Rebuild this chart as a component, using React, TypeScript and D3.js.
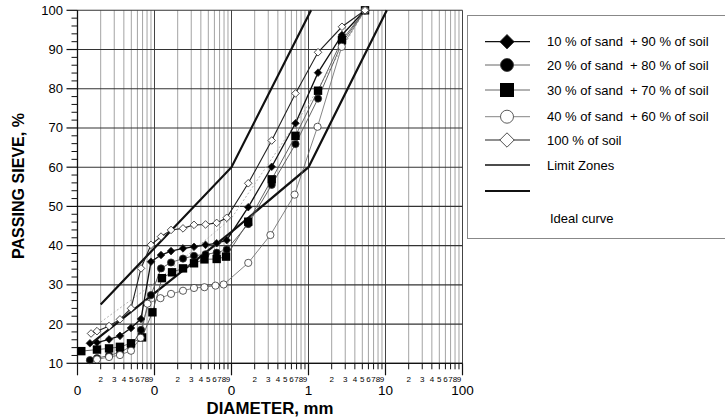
import React from 'react';
import * as d3 from 'd3';

// particle diameters (mm)
const hydroD = [0.00145, 0.00179, 0.00257, 0.00356, 0.00495, 0.00668, 0.009, 0.01215, 0.0164, 0.02345, 0.0326, 0.046, 0.0642, 0.0867];
const sieveD = [0.165, 0.333, 0.678, 1.33, 2.72, 5.42];
const allD = [...hydroD, ...sieveD];

const sand10 = [15.1, 15.3, 16.1, 17.0, 19.0, 21.3, 35.9, 37.6, 38.6, 39.3, 39.7, 40.2, 40.6, 41.4, 49.8, 60.1, 71.2, 84.1, 93.7, 100];
const sand20 = [10.8, 11.3, 12.0, 12.8, 14.3, 18.5, 27.4, 34.2, 35.7, 36.7, 37.4, 37.8, 38.2, 39.0, 45.5, 55.5, 65.9, 77.5, 91.7, 100];
const sand30D = [0.00112, 0.00179, 0.00257, 0.00356, 0.00495, 0.0069, 0.0094, 0.0125, 0.0169, 0.02345, 0.0326, 0.0445, 0.0642, 0.085, ...sieveD];
const sand30 = [13.1, 13.5, 13.8, 14.2, 15.1, 16.6, 23.0, 31.7, 33.2, 34.2, 35.5, 36.5, 36.6, 37.2, 46.1, 56.9, 68.0, 79.5, 92.4, 100];
const sand40D = [0.00179, 0.00257, 0.00356, 0.00495, 0.0066, 0.0081, 0.01195, 0.0164, 0.02345, 0.0326, 0.0445, 0.062, 0.079, 0.165, 0.32, 0.66, 1.31, 2.7, 5.42];
const sand40 = [11.0, 11.6, 12.1, 13.2, 16.5, 25.2, 26.6, 27.7, 28.5, 29.2, 29.4, 29.8, 30.1, 35.6, 42.7, 53.0, 70.3, 90.7, 100];
const soil100D = [0.0015, ...allD.slice(1)];
const soil100 = [17.6, 18.2, 19.5, 21.2, 24.0, 34.2, 40.2, 42.3, 44.0, 44.4, 45.3, 45.4, 45.8, 47.1, 55.9, 66.8, 78.8, 89.3, 95.8, 100];

const upperD = [0.002, 0.1, 1.08];
const upperP = [25, 60, 100];
const lowerD = [0.0015, 0.1, 1, 10.4];
const lowerP = [15, 43.5, 60, 100];
const idealD = [0.002, 0.01, 0.1, 1, 5.42];
const idealP = [20.5, 30.5, 47, 76, 100];

const majorLabels = ['0', '0', '0', '1', '10', '100'];
const minorLabels = ['2', '3', '4', '5', '6', '7', '8', '9'];
const yTicks = [10, 20, 30, 40, 50, 60, 70, 80, 90, 100];

const legendLabels = [
  '10 % of sand  + 90 % of soil',
  '20 % of sand  + 80 % of soil',
  '30 % of sand  + 70 % of soil',
  '40 % of sand  + 60 % of soil',
  '100 % of soil',
  'Limit Zones',
];

const FONT = '"Liberation Sans", Arial, sans-serif';

type Pt = [number, number];

const marker = (kind: string, cx: number, cy: number, s: number, key: string) => {
  if (kind === 'diamond' || kind === 'odiamond') {
    const d = `M${cx},${cy - s}L${cx + s},${cy}L${cx},${cy + s}L${cx - s},${cy}Z`;
    return <path key={key} d={d} fill={kind === 'diamond' ? '#000' : '#fff'} stroke="#222" strokeWidth={0.8} />;
  }
  if (kind === 'square') {
    return <rect key={key} x={cx - s} y={cy - s} width={2 * s} height={2 * s} fill="#000" />;
  }
  return (
    <circle key={key} cx={cx} cy={cy} r={s} fill={kind === 'circle' ? '#000' : '#fff'} stroke="#333" strokeWidth={0.8} />
  );
};

export default function App() {
  const x = d3.scaleLog().domain([0.001, 100]).range([77.5, 462.5]);
  const y = d3.scaleLinear().domain([10, 100]).range([363.3, 10.3]);
  const line = d3.line<Pt>().x(d => x(d[0])).y(d => y(d[1]));
  const zip = (a: number[], b: number[]) => a.map((v, i) => [v, b[i]] as Pt);

  const series = [
    { pts: zip(allD, sand10), kind: 'diamond', stroke: '#111', w: 1.3, s: 3.8 },
    { pts: zip(allD, sand20), kind: 'circle', stroke: '#555', w: 0.9, s: 3.6 },
    { pts: zip(sand30D, sand30), kind: 'square', stroke: '#555', w: 0.9, s: 4.2 },
    { pts: zip(sand40D, sand40), kind: 'ocircle', stroke: '#666', w: 0.8, s: 3.6 },
    { pts: zip(soil100D, soil100), kind: 'odiamond', stroke: '#222', w: 1.1, s: 3.8 },
  ];

  const decades = [0.001, 0.01, 0.1, 1, 10, 100];
  const minorVals: number[] = [];
  decades.slice(0, 5).forEach(dec => {
    for (let k = 2; k <= 9; k++) minorVals.push(dec * k);
  });
  const yMinor = d3.range(10, 100, 2).filter(v => v % 10 !== 0);

  const [x0, x1] = x.range();
  const [y0, y1] = y.range();

  return (
    <svg width={725} height={418} style={{ position: 'absolute', left: 0, top: 0, background: '#fff' }} fontFamily={FONT}>
      {/* grid */}
      {minorVals.map((v, i) => (
        <line key={'vg' + i} x1={x(v)} x2={x(v)} y1={y1} y2={y0} stroke="#9a9a9a" strokeWidth={0.9} />
      ))}
      {decades.map((v, i) => (
        <line key={'vm' + i} x1={x(v)} x2={x(v)} y1={y1} y2={y0} stroke="#444" strokeWidth={1} />
      ))}
      {yTicks.map(v => (
        <line key={'hg' + v} x1={x0} x2={x1} y1={y(v)} y2={y(v)} stroke="#333" strokeWidth={1.1} />
      ))}

      {/* axes */}
      <line x1={x0} x2={x0} y1={y1} y2={y0} stroke="#111" strokeWidth={1.3} />
      <line x1={x0} x2={x1} y1={y0} y2={y0} stroke="#111" strokeWidth={1.3} />
      {yTicks.map(v => (
        <g key={'yt' + v}>
          <line x1={x0 - 11} x2={x0} y1={y(v)} y2={y(v)} stroke="#111" strokeWidth={1.2} />
          <text x={63} y={y(v) + 4.5} textAnchor="end" fontSize={13}>{v}</text>
        </g>
      ))}
      {yMinor.map(v => (
        <line key={'ym' + v} x1={x0 - 6} x2={x0} y1={y(v)} y2={y(v)} stroke="#111" strokeWidth={1} />
      ))}
      {decades.map((v, i) => (
        <g key={'xt' + i}>
          <line x1={x(v)} x2={x(v)} y1={y0} y2={y0 + 12} stroke="#111" strokeWidth={1.2} />
          <text x={x(v)} y={395} textAnchor="middle" fontSize={13.5}>{majorLabels[i]}</text>
        </g>
      ))}
      {minorVals.map((v, i) => (
        <g key={'xm' + i}>
          <line x1={x(v)} x2={x(v)} y1={y0} y2={y0 + 6} stroke="#111" strokeWidth={1} />
          <text x={x(v)} y={382} textAnchor="middle" fontSize={8}>{minorLabels[i % 8]}</text>
        </g>
      ))}
      <text x={270} y={414} textAnchor="middle" fontSize={16.5} fontWeight="bold" textLength={127} lengthAdjust="spacingAndGlyphs">DIAMETER, mm</text>
      <text transform="translate(24,186) rotate(-90)" textAnchor="middle" fontSize={17} fontWeight="bold" textLength={146} lengthAdjust="spacingAndGlyphs">PASSING SIEVE, %</text>

      {/* limit zones and ideal curve */}
      <path d={line(zip(idealD, idealP)) || ''} fill="none" stroke="#aaa" strokeWidth={0.9} strokeDasharray="2 2" />
      <path d={line(zip(upperD, upperP)) || ''} fill="none" stroke="#111" strokeWidth={2.2} />
      <path d={line(zip(lowerD, lowerP)) || ''} fill="none" stroke="#111" strokeWidth={2.2} />

      {/* data */}
      {series.map((s, i) => (
        <path key={'ln' + i} d={line(s.pts) || ''} fill="none" stroke={s.stroke} strokeWidth={s.w} />
      ))}
      {series.map((s, i) => s.pts.map((p, j) => marker(s.kind, x(p[0]), y(p[1]), s.s, `m${i}-${j}`)))}

      {/* legend */}
      <rect x={467.5} y={15.5} width={270} height={223} fill="#fff" stroke="#888" strokeWidth={1} />
      {series.map((s, i) => {
        const ly = [41.7, 65, 90, 116.7, 140][i];
        const big = s.kind === 'square' ? 7 : s.kind.includes('circle') ? 6.5 : 7.2;
        return (
          <g key={'lg' + i}>
            <line x1={485} x2={530} y1={ly} y2={ly} stroke={s.stroke} strokeWidth={s.w} />
            {marker(s.kind, 507, ly, big, 'lm' + i)}
            <text x={547} y={ly + 4.5} fontSize={13} style={{ whiteSpace: 'pre' }}>{legendLabels[i]}</text>
          </g>
        );
      })}
      <line x1={485} x2={530} y1={165} y2={165} stroke="#111" strokeWidth={1.5} />
      <text x={547} y={169.5} fontSize={13}>{legendLabels[5]}</text>
      <line x1={485} x2={530} y1={191} y2={191} stroke="#111" strokeWidth={2} />
      <text x={550} y={223} fontSize={13}>Ideal curve</text>
    </svg>
  );
}
